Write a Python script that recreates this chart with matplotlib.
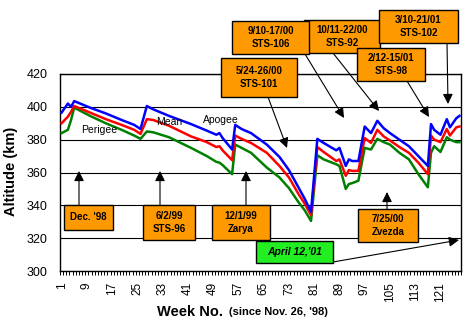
import numpy as np
import matplotlib
matplotlib.use("Agg")
import matplotlib.pyplot as plt
from matplotlib.patches import Rectangle, FancyArrowPatch

plt.rcParams['font.family'] = ['Liberation Sans', 'DejaVu Sans']

# ---------------------------------------------------------------
# data
# ---------------------------------------------------------------
weeks = [1, 3, 4, 5, 10, 15, 20, 24, 26, 28, 30, 35, 42, 47, 50, 51, 52, 55, 56, 58,
         61, 66, 70, 73, 76, 78, 80, 82, 84, 88, 89, 91, 92, 93, 95, 97, 99, 101,
         103, 105, 108, 111, 114, 117, 118, 119, 121, 123, 124, 126, 127]

apogee = [396.5, 402, 400, 403.5, 399.5, 396, 392, 389, 386.5, 400.5, 398.5, 394.5,
          389.5, 385.5, 383, 384, 381, 374, 389, 386.5, 384, 377, 369.5, 361.5, 351,
          344, 336, 380.5, 378, 373.5, 375, 364, 368, 367, 367, 388, 384, 391.5, 387,
          384, 380, 376, 370, 364, 389.5, 386, 383, 392.5, 387.5, 393, 394.5]

mean = [390, 394, 397, 400.5, 396.5, 392.5, 389, 386, 383.5, 392.5, 392, 388.5,
        382, 378.5, 375.5, 376, 373.5, 367.5, 382.5, 380.5, 378, 372, 364, 357, 347,
        341, 334, 375.5, 372.5, 367, 368, 358, 361.5, 361, 361, 381, 378, 386, 382,
        379.5, 375.5, 372, 366, 359, 382.5, 380, 378.5, 386.5, 382.5, 387.5, 388]

perigee = [384, 386, 392, 399.5, 394.5, 390, 386, 382.5, 380.5, 385, 384.5, 381.5,
           375, 370, 366.5, 366, 364.5, 359, 377, 375, 372, 363, 357, 350.5, 342,
           337, 330.5, 370.5, 368, 365, 364, 350, 353, 353.5, 355, 375, 374, 380.5,
           378.5, 377, 372, 368, 359, 351, 372, 376, 372.5, 381.5, 380, 378.5, 378.5]

n_weeks = 127
week_labels = list(range(1, 122, 8))
alt_ticks = [300, 320, 340, 360, 380, 400, 420]

# event boxes: text, box (left, top, right, bottom) in px, arrow start, arrow end (px)
events = [
    ("Dec. '98", (64, 205, 113, 230), (79, 205), (79, 171)),
    ("6/2/99\nSTS-96", (143, 205, 195, 240), (160, 205), (160, 171)),
    ("12/1/99\nZarya", (212, 205, 270, 240), (246, 205), (246, 171)),
    ("7/25/00\nZvezda", (358, 209, 418, 242), (387, 209), (387, 192)),
    ("5/24-26/00\nSTS-101", (221, 58, 297, 97), (268, 97), (287, 148)),
    ("10/11-22/00\nSTS-92", (304, 20, 380, 53), (333, 53), (379, 111)),
    ("9/10-17/00\nSTS-106", (232, 21, 309, 54), (305, 54), (344, 118)),
    ("3/10-21/01\nSTS-102", (379, 10, 458, 43), (447, 43), (448, 104)),
    ("2/12-15/01\nSTS-98", (357, 48, 425, 81), (407, 81), (429, 117)),
]

W, H = 467, 324


def fxy(px, py):
    return px / W, 1 - py / H


fig = plt.figure(figsize=(W / 100, H / 100), dpi=100)
ax = fig.add_axes([60 / W, 1 - 271 / H, (461 - 60) / W, (271 - 74) / H])

ax.plot(weeks, perigee, color='#008000', lw=1.8, zorder=3)
ax.plot(weeks, mean, color='#ff0000', lw=1.8, zorder=4)
ax.plot(weeks, apogee, color='#0000ff', lw=1.8, zorder=5)

ax.set_xlim(0.5, n_weeks + 0.5)
ax.set_ylim(300, 420)
ax.set_yticks(alt_ticks)
ax.yaxis.grid(True, color='black', lw=0.8)
ax.set_axisbelow(True)
ax.set_xticks(week_labels)
ax.set_xticklabels([str(w) for w in week_labels], rotation=90, fontsize=8.5)
ax.set_xticks(np.arange(0.5, n_weeks + 1, 1), minor=True)
ax.tick_params(axis='x', which='major', length=0, pad=8)
ax.tick_params(axis='x', which='minor', length=3, width=0.7, direction='out')
ax.tick_params(axis='y', length=0, pad=9, labelsize=9)
for s in ax.spines.values():
    s.set_color('black')
    s.set_linewidth(1)

# series labels
fig.text(*fxy(99, 130), "Perigee", fontsize=7.5, ha='center', va='center', zorder=6)
fig.text(*fxy(169, 122), "Mean", fontsize=7.5, ha='center', va='center', zorder=6)
fig.text(*fxy(221, 120), "Apogee", fontsize=7.5, ha='center', va='center', zorder=6)

# axis titles
fig.text(*fxy(11, 171), "Altitude (km)", rotation=90, fontsize=10.5, fontweight='bold',
         ha='center', va='center')
fig.text(*fxy(157, 312), "Week No.", fontsize=10.5, fontweight='bold', ha='left', va='center')
fig.text(*fxy(229, 312), "(since Nov. 26, '98)", fontsize=8, fontweight='bold',
         ha='left', va='center')

z = 10
for label, (l, t, r, b), start, end in events:
    x0, y0 = fxy(l, b)
    rect = Rectangle((x0, y0), (r - l) / W, (b - t) / H, transform=fig.transFigure,
                     facecolor='#ff9900', edgecolor='black', lw=1, zorder=z)
    fig.add_artist(rect)
    fig.text(*fxy((l + r) / 2, (t + b) / 2), label, fontsize=7, fontweight='bold',
             ha='center', va='center', linespacing=1.45, zorder=z + 1)
    arr = FancyArrowPatch(fxy(*start), fxy(*end), transform=fig.transFigure,
                          arrowstyle='-|>,head_length=0.6,head_width=0.3', mutation_scale=10,
                          lw=0.8, color='black', shrinkA=0, shrinkB=0, zorder=z - 1)
    fig.add_artist(arr)
    z += 2

# launch of the green note
l, t, r, b = 256, 241, 333, 263
x0, y0 = fxy(l, b)
fig.add_artist(Rectangle((x0, y0), (r - l) / W, (b - t) / H, transform=fig.transFigure,
                         facecolor='#22ee22', edgecolor='black', lw=1, zorder=z))
fig.text(*fxy((l + r) / 2, (t + b) / 2), "April 12,'01", fontsize=7.5, fontweight='bold',
         style='italic', ha='center', va='center', zorder=z + 1)
fig.add_artist(FancyArrowPatch(fxy(333, 262), fxy(459, 240), transform=fig.transFigure,
                               arrowstyle='-|>,head_length=0.6,head_width=0.3',
                               mutation_scale=10, lw=0.8, color='black',
                               shrinkA=0, shrinkB=0, zorder=z - 1))

fig.savefig("out.png", dpi=100)
